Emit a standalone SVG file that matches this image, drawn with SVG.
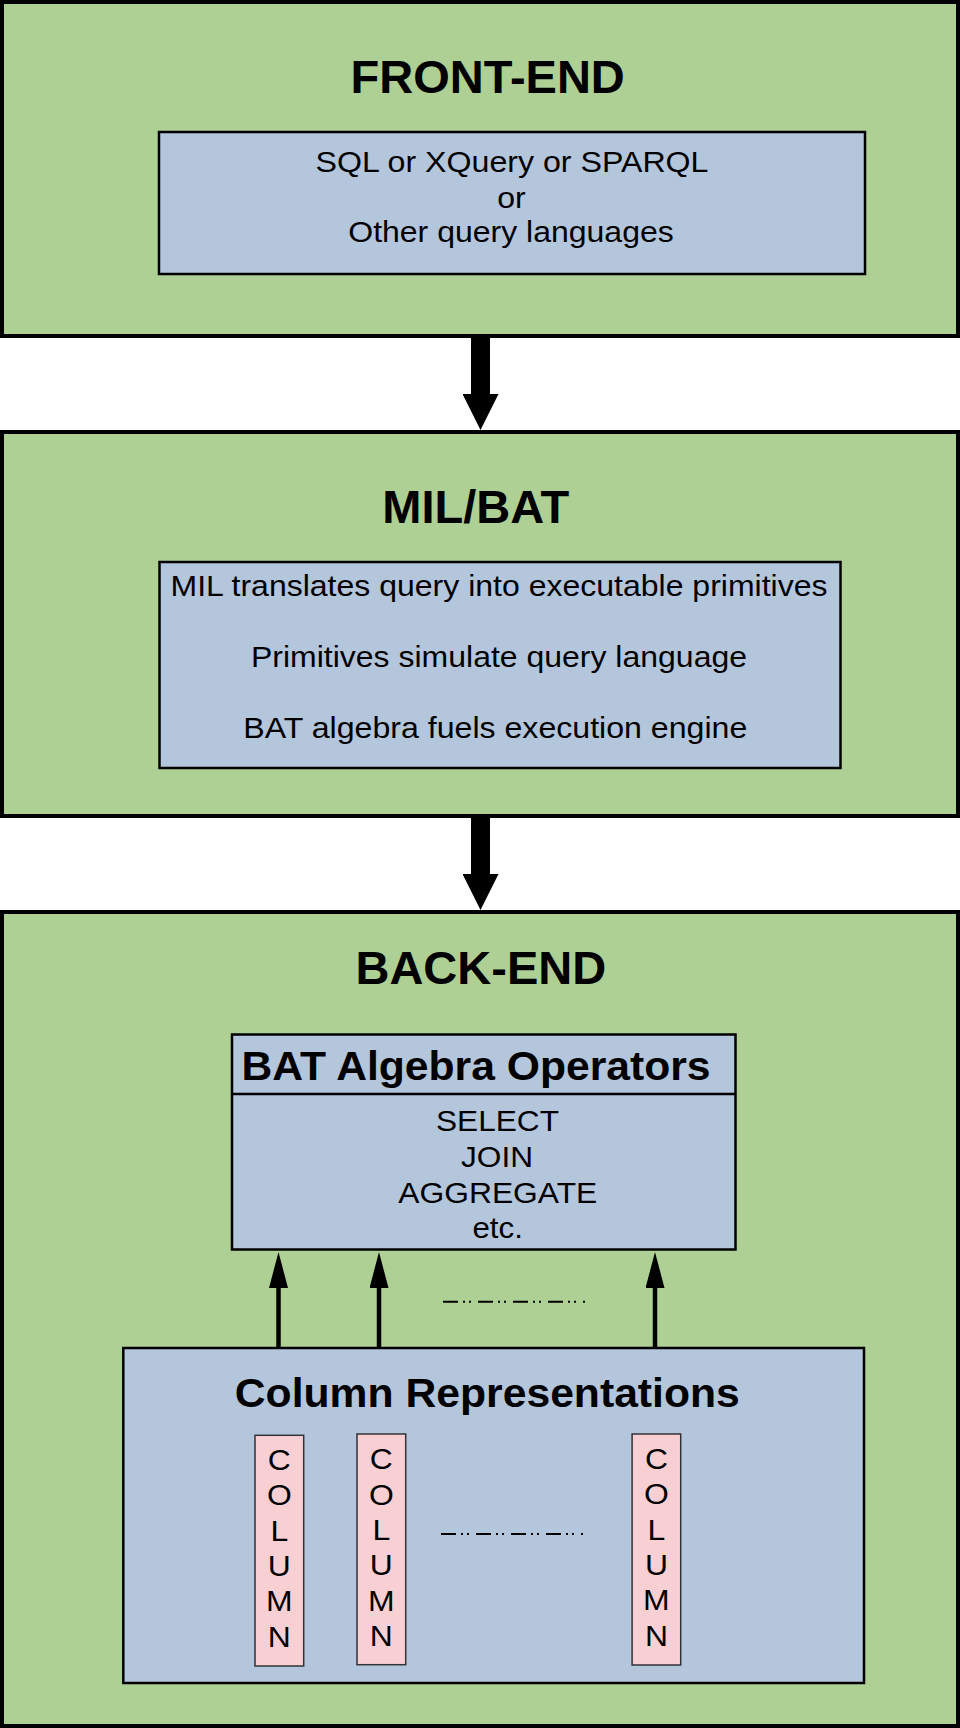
<svg xmlns="http://www.w3.org/2000/svg" width="960" height="1728" viewBox="0 0 960 1728">
  <style>
    .outer { fill: #aed095; stroke: #000; stroke-width: 4; }
    .inner { fill: #b4c6dc; stroke: #000; stroke-width: 2.5; }
    .col { fill: #f8d0d4; stroke: #333; stroke-width: 1.5; }
    .title { font-family: "Liberation Sans", Arial, sans-serif; font-weight: bold; font-size: 47px; fill: #000; text-anchor: middle; }
    .sub { font-family: "Liberation Sans", Arial, sans-serif; font-weight: bold; font-size: 41px; fill: #000; text-anchor: middle; }
    .body { font-family: "Liberation Sans", Arial, sans-serif; font-size: 29.5px; fill: #000; text-anchor: middle; }
    .letter { font-family: "Liberation Sans", Arial, sans-serif; font-size: 30px; fill: #000; text-anchor: middle; }
    .thick { stroke: #000; stroke-width: 19; fill: none; }
    .thin { stroke: #000; stroke-width: 4.5; fill: none; }
    .dashdot { stroke: #000; stroke-width: 2; fill: none; stroke-dasharray: 15 5 2 4 2 7; }
  </style>
  <defs>
    <marker id="bigHead" markerUnits="userSpaceOnUse" viewBox="0 0 36 36" markerWidth="36" markerHeight="36" refX="0" refY="18" orient="auto">
      <path d="M0,0 L36,18 L0,36 Z" fill="#000"/>
    </marker>
    <marker id="smallHead" markerUnits="userSpaceOnUse" viewBox="0 0 36 19" markerWidth="36" markerHeight="19" refX="0" refY="9.5" orient="auto">
      <path d="M0,0 L36,9.5 L0,19 Z" fill="#000"/>
    </marker>
  </defs>

  <g id="front-end">
    <rect class="outer" x="2" y="2" width="956" height="334"/>
    <text class="title" x="487.7" y="92.7">FRONT-END</text>
    <rect class="inner" x="159" y="132" width="706" height="142"/>
    <text class="body" x="512" y="171.7" textLength="393" lengthAdjust="spacingAndGlyphs">SQL or XQuery or SPARQL</text>
    <text class="body" x="511.5" y="207.5" textLength="28.5" lengthAdjust="spacingAndGlyphs">or</text>
    <text class="body" x="511" y="242.3" textLength="325.5" lengthAdjust="spacingAndGlyphs">Other query languages</text>
  </g>

  <g id="mil-bat">
    <rect class="outer" x="2" y="432" width="956" height="384"/>
    <text class="title" x="475.8" y="523.3">MIL/BAT</text>
    <rect class="inner" x="159.5" y="562" width="681" height="206"/>
    <text class="body" x="499" y="596" textLength="657" lengthAdjust="spacingAndGlyphs">MIL translates query into executable primitives</text>
    <text class="body" x="499" y="666.7" textLength="496" lengthAdjust="spacingAndGlyphs">Primitives simulate query language</text>
    <text class="body" x="495.3" y="738.3" textLength="504" lengthAdjust="spacingAndGlyphs">BAT algebra fuels execution engine</text>
  </g>

  <g id="back-end">
    <rect class="outer" x="2" y="912" width="956" height="814"/>
    <text class="title" x="480.8" y="984">BACK-END</text>
  </g>

  <g id="bat-algebra-operators">
    <rect class="inner" x="232" y="1034.5" width="503.5" height="215"/>
    <line x1="232" y1="1094" x2="735.5" y2="1094" stroke="#000" stroke-width="2.5"/>
    <text class="sub" x="476" y="1079.5" textLength="469" lengthAdjust="spacingAndGlyphs">BAT Algebra Operators</text>
    <text class="body" x="497.5" y="1130.7" textLength="123" lengthAdjust="spacingAndGlyphs">SELECT</text>
    <text class="body" x="497" y="1167.3" textLength="72" lengthAdjust="spacingAndGlyphs">JOIN</text>
    <text class="body" x="497.8" y="1203.3" textLength="199" lengthAdjust="spacingAndGlyphs">AGGREGATE</text>
    <text class="body" x="497.7" y="1238.3" textLength="50.5" lengthAdjust="spacingAndGlyphs">etc.</text>
  </g>

  <g id="column-representations">
    <rect class="inner" x="123.3" y="1348" width="740.7" height="335"/>
    <text class="sub" x="487.3" y="1407.3" textLength="505" lengthAdjust="spacingAndGlyphs">Column Representations</text>
    <path class="dashdot" d="M441,1534 H583"/>
  </g>

  <g id="column-1">
    <rect class="col" x="255" y="1435.3" width="48.7" height="230.7"/>
    <text class="letter" x="279.3" y="1470" textLength="23" lengthAdjust="spacingAndGlyphs">C</text>
    <text class="letter" x="279.3" y="1505.3" textLength="24.8" lengthAdjust="spacingAndGlyphs">O</text>
    <text class="letter" x="279.3" y="1540.6" textLength="17.8" lengthAdjust="spacingAndGlyphs">L</text>
    <text class="letter" x="279.3" y="1576" textLength="23" lengthAdjust="spacingAndGlyphs">U</text>
    <text class="letter" x="279.3" y="1611.3" textLength="26.6" lengthAdjust="spacingAndGlyphs">M</text>
    <text class="letter" x="279.3" y="1646.7" textLength="23" lengthAdjust="spacingAndGlyphs">N</text>
  </g>
  <g id="column-2">
    <rect class="col" x="357" y="1434" width="48.7" height="230.7"/>
    <text class="letter" x="381.3" y="1469.3" textLength="23" lengthAdjust="spacingAndGlyphs">C</text>
    <text class="letter" x="381.3" y="1504.6" textLength="24.8" lengthAdjust="spacingAndGlyphs">O</text>
    <text class="letter" x="381.3" y="1539.9" textLength="17.8" lengthAdjust="spacingAndGlyphs">L</text>
    <text class="letter" x="381.3" y="1575.3" textLength="23" lengthAdjust="spacingAndGlyphs">U</text>
    <text class="letter" x="381.3" y="1610.6" textLength="26.6" lengthAdjust="spacingAndGlyphs">M</text>
    <text class="letter" x="381.3" y="1646" textLength="23" lengthAdjust="spacingAndGlyphs">N</text>
  </g>
  <g id="column-3">
    <rect class="col" x="632.1" y="1434" width="48.6" height="231"/>
    <text class="letter" x="656.4" y="1469" textLength="23" lengthAdjust="spacingAndGlyphs">C</text>
    <text class="letter" x="656.4" y="1504.3" textLength="24.8" lengthAdjust="spacingAndGlyphs">O</text>
    <text class="letter" x="656.4" y="1539.6" textLength="17.8" lengthAdjust="spacingAndGlyphs">L</text>
    <text class="letter" x="656.4" y="1575" textLength="23" lengthAdjust="spacingAndGlyphs">U</text>
    <text class="letter" x="656.4" y="1610.3" textLength="26.6" lengthAdjust="spacingAndGlyphs">M</text>
    <text class="letter" x="656.4" y="1645.7" textLength="23" lengthAdjust="spacingAndGlyphs">N</text>
  </g>

  <g id="connectors">
    <line class="thick" x1="480.5" y1="336" x2="480.5" y2="394" marker-end="url(#bigHead)"/>
    <line class="thick" x1="480.5" y1="816" x2="480.5" y2="874" marker-end="url(#bigHead)"/>
    <line class="thin" x1="278.5" y1="1347" x2="278.5" y2="1288" marker-end="url(#smallHead)"/>
    <line class="thin" x1="379" y1="1347" x2="379" y2="1288" marker-end="url(#smallHead)"/>
    <line class="thin" x1="655" y1="1347" x2="655" y2="1288" marker-end="url(#smallHead)"/>
    <path class="dashdot" d="M443,1301.7 H585"/>
  </g>
</svg>
